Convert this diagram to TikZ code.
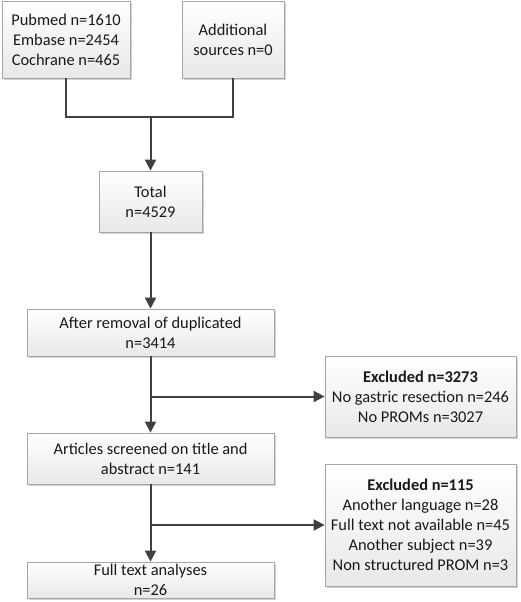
\documentclass[tikz,border=0pt]{standalone}
\usepackage{fontspec}
\setmainfont{Carlito}
\usetikzlibrary{arrows.meta,shadows}
\tikzset{
  box/.style={draw=black!35, line width=0.8pt, top color=white, bottom color=black!9,
    align=center, inner sep=2pt, font=\fontsize{16.4}{20}\selectfont, text=black!90,
    drop shadow={shadow xshift=1.6pt, shadow yshift=-1.6pt, fill=black!35, opacity=0.5}},
  conn/.style={draw=black!75, line width=2pt},
  arr/.style={conn, -{Triangle[width=11pt,length=11pt]}}
}
\begin{document}
\begin{tikzpicture}[x=1pt,y=1pt]
\useasboundingbox (0,0) rectangle (520,-602);
\node[box, minimum width=128pt, minimum height=77pt] (src) at (66,-39.5) {Pubmed n=1610\\Embase n=2454\\Cochrane n=465};
\node[box, minimum width=102pt, minimum height=77pt] (add) at (233,-39.5) {Additional\\sources n=0};
\node[box, minimum width=103pt, minimum height=61pt] (tot) at (150.5,-201.5) {Total\\n=4529};
\node[box, minimum width=247pt, minimum height=47pt] (dup) at (150.5,-332.5) {After removal of duplicated\\n=3414};
\node[box, minimum width=191pt, minimum height=81pt] (ex1) at (420.5,-396.5) {\textbf{Excluded n=3273}\\No gastric resection n=246\\No PROMs n=3027};
\node[box, minimum width=247pt, minimum height=51pt] (scr) at (150.5,-458.5) {Articles screened on title and\\abstract n=141};
\node[box, minimum width=191pt, minimum height=122pt] (ex2) at (420.5,-525) {\textbf{Excluded n=115}\\Another language n=28\\Full text not available n=45\\Another subject n=39\\Non structured PROM n=3};
\node[box, minimum width=247pt, minimum height=36pt] (full) at (150.5,-580) {Full text analyses\\n=26};
\coordinate (j1) at (150.5,-117);
\draw[conn] (src.south) |- (j1) -| (add.south);
\draw[arr] (j1) -- (tot.north);
\draw[arr] (tot.south) -- (dup.north);
\draw[arr] (dup.south) -- (scr.north);
\draw[arr] (dup.south |- ex1.west) -- (ex1.west);
\draw[arr] (scr.south) -- (full.north);
\draw[arr] (scr.south |- ex2.west) -- (ex2.west);
\end{tikzpicture}
\end{document}
